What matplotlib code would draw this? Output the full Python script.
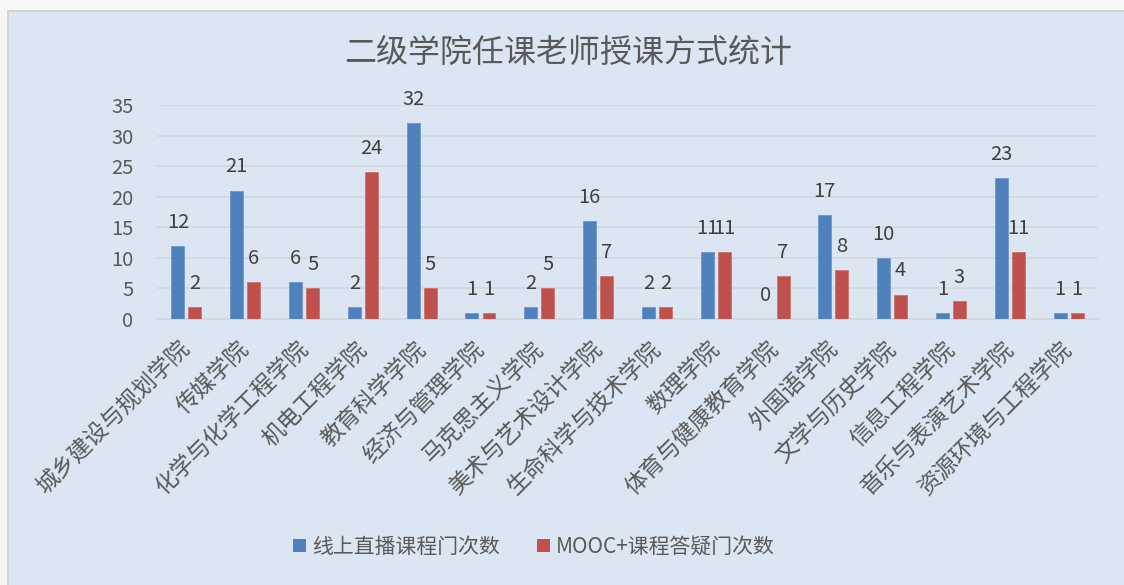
import matplotlib
matplotlib.use('Agg')
import matplotlib.pyplot as plt
from matplotlib.patches import Patch, Rectangle
import numpy as np

plt.rcParams['font.family'] = ['Noto Sans CJK SC', 'DejaVu Sans']

colleges = ['城乡建设与规划学院', '传媒学院', '化学与化学工程学院', '机电工程学院',
            '教育科学学院', '经济与管理学院', '马克思主义学院', '美术与艺术设计学院',
            '生命科学与技术学院', '数理学院', '体育与健康教育学院', '外国语学院',
            '文学与历史学院', '信息工程学院', '音乐与表演艺术学院', '资源环境与工程学院']
live = [12, 21, 6, 2, 32, 1, 2, 16, 2, 11, 0, 17, 10, 1, 23, 1]
mooc = [2, 6, 5, 24, 5, 1, 5, 7, 2, 11, 7, 8, 4, 3, 11, 1]
series_names = ['线上直播课程门次数', 'MOOC+课程答疑门次数']
yticks = [0, 5, 10, 15, 20, 25, 30, 35]

blue = '#4F81BD'
red = '#C0504D'
panel = '#DCE6F2'
txt = '#595959'

W, H = 1124, 585
fig = plt.figure(figsize=(W / 100, H / 100), dpi=100)
fig.patch.set_facecolor('#F7F7F7')
# chart panel
fig.patches.append(Rectangle((8 / W, -0.01), 1.0, 1.01 - 11 / H, transform=fig.transFigure,
                             facecolor=panel, edgecolor='#CFCFCF', linewidth=1.2, zorder=-10))

ax = fig.add_axes([157 / W, 1 - 319 / H, (1098 - 157) / W, (319 - 105) / H])
ax.set_facecolor('none')
ax.set_zorder(2)

x = np.arange(len(colleges))
bw = 0.22
off = 0.145
b1 = ax.bar(x - off, live, bw, color=blue, edgecolor='#6E97C8', linewidth=0.6, zorder=3)
b2 = ax.bar(x + off, mooc, bw, color=red, edgecolor='#CC7270', linewidth=0.6, zorder=3)

for bars, vals in ((b1, live), (b2, mooc)):
    for r, v in zip(bars, vals):
        ax.annotate(str(v), (r.get_x() + r.get_width() / 2, v), xytext=(0, 17),
                    textcoords='offset points', ha='center', va='center',
                    fontsize=14.5, color='#404040', zorder=4)

ax.set_ylim(0, 35)
ax.set_xlim(-0.5, len(colleges) - 0.5)
ax.set_yticks(yticks)
ax.yaxis.grid(True, color='#D3D7DC', linewidth=1.2, zorder=0)
ax.set_axisbelow(True)
for s in ['top', 'right', 'left']:
    ax.spines[s].set_visible(False)
ax.spines['bottom'].set_color('#D3D7DC')
ax.spines['bottom'].set_linewidth(1.2)
ax.tick_params(axis='y', length=0, pad=17, labelsize=14.5, labelcolor=txt)
ax.tick_params(axis='x', length=0, pad=19, labelsize=16.5, labelcolor=txt)
ax.set_xticks(x)
ax.set_xticklabels(colleges, rotation=45, ha='right', va='center', rotation_mode='anchor')

fig.text(568 / W, 1 - 53 / H, '二级学院任课老师授课方式统计', ha='center', va='center',
         fontsize=23, color=txt)

handles = [Patch(facecolor=blue), Patch(facecolor=red)]
fig.legend(handles, series_names, loc='center', bbox_to_anchor=(534 / W, 1 - 547 / H),
           ncol=2, frameon=False, fontsize=15, labelcolor=txt, handlelength=0.6,
           handleheight=0.6, handletextpad=0.3, columnspacing=1.8)

fig.savefig('out.png', dpi=100, facecolor=fig.get_facecolor())
